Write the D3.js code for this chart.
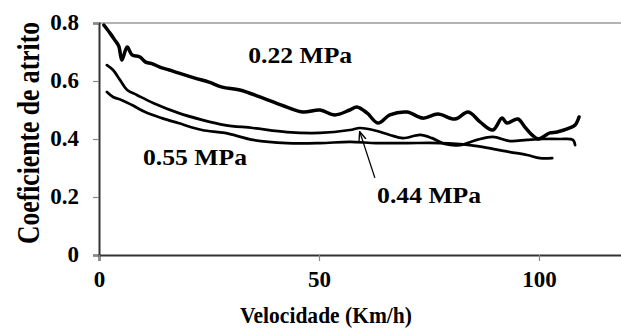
<!DOCTYPE html>
<html>
<head>
<meta charset="utf-8">
<script src="https://cdn.jsdelivr.net/npm/d3@7"></script>
<style>
  html, body { margin: 0; padding: 0; background: #fff; }
  svg { display: block; }
  text { font-family: "Liberation Serif", "Times New Roman", serif; font-weight: bold; fill: #000; }
</style>
</head>
<body>
<svg id="chart" width="621" height="330"></svg>
<script>
// ---- data ----
const speed022 = [1.1, 2.5, 3.6, 4.5, 5.2, 6.4, 7.5, 9.3, 10.5, 12, 14.3, 16, 18, 21.8, 25, 28, 32, 37.3, 42.7, 46.4, 50.2, 53.6, 57, 58.6, 60.9, 63.4, 66.1, 70, 73.6, 77, 80.9, 83.9, 86.6, 89.5, 91.6, 92.7, 95.2, 96.8, 98.4, 99.8, 102.5, 104.1, 107, 108.2, 109.1];
const coef022  = [0.793, 0.765, 0.741, 0.72, 0.672, 0.717, 0.690, 0.683, 0.666, 0.660, 0.645, 0.638, 0.628, 0.610, 0.596, 0.579, 0.569, 0.541, 0.510, 0.493, 0.500, 0.483, 0.500, 0.510, 0.490, 0.455, 0.483, 0.493, 0.472, 0.486, 0.469, 0.493, 0.459, 0.431, 0.472, 0.455, 0.469, 0.441, 0.414, 0.400, 0.421, 0.424, 0.438, 0.448, 0.476];

const speed044 = [1.8, 3.2, 4.8, 6.4, 8.6, 12.3, 18, 23.4, 28.6, 35, 42.7, 50.2, 57, 59.3, 62.3, 66.1, 69.1, 73, 75.7, 78.6, 82, 85.9, 89.5, 93.4, 97.3, 100.9, 104.8, 107.7, 108.2];
const coef044  = [0.655, 0.638, 0.603, 0.569, 0.552, 0.524, 0.490, 0.466, 0.448, 0.438, 0.424, 0.421, 0.431, 0.438, 0.431, 0.414, 0.403, 0.414, 0.403, 0.383, 0.379, 0.397, 0.407, 0.393, 0.397, 0.400, 0.400, 0.397, 0.379];

const speed055 = [1.8, 3.2, 5.2, 7.5, 10.5, 14.3, 18, 23.4, 28.6, 35, 42.7, 50.2, 57, 63, 70, 77.5, 84.3, 89.5, 93.4, 97.3, 100.2, 103];
const coef055  = [0.562, 0.545, 0.534, 0.517, 0.493, 0.472, 0.455, 0.431, 0.421, 0.397, 0.386, 0.386, 0.390, 0.386, 0.386, 0.386, 0.379, 0.366, 0.355, 0.345, 0.334, 0.334];

const xTicks = [0, 50, 100];
const yTicks = [0, 0.2, 0.4, 0.6, 0.8];
const yTickLabels = ["0", "0.2", "0.4", "0.6", "0.8"];

const labelNames = ["0.22 MPa", "0.55 MPa", "0.44 MPa"];
const labelX = [33.9, 10.0, 63.2];
const labelY = [0.662, 0.310, 0.179];

const arrowFrom = [62.7, 0.266];
const arrowTo = [59.3, 0.423];

const xTitle = "Velocidade (Km/h)";
const yTitle = "Coeficiente de atrito";

// ---- chart ----
const svg = d3.select("#chart");
const x = d3.scaleLinear().domain([0, 120]).range([99, 627]);
const y = d3.scaleLinear().domain([0, 0.8]).range([255, 23]);

// top border
svg.append("line").attr("x1", x(0)).attr("x2", 621).attr("y1", y(0.8)).attr("y2", y(0.8))
  .attr("stroke", "#9a9a9a").attr("stroke-width", 1.5);

// y axis
const yAxis = d3.axisLeft(y).tickValues(yTicks).tickFormat((d, i) => yTickLabels[i]).tickSize(6).tickPadding(14);
const gy = svg.append("g").attr("transform", `translate(${x(0)},0)`).call(yAxis);
gy.select(".domain").attr("stroke", "#333").attr("stroke-width", 2);
gy.selectAll(".tick line").attr("stroke", "#888").attr("stroke-width", 1.2);
gy.selectAll(".tick text").style("font-size", "23px").attr("dy", "0.3em").attr("fill", "#000");

// x axis
const xAxis = d3.axisBottom(x).tickValues(xTicks).tickFormat(d3.format("d")).tickSize(6).tickPadding(10);
const gx = svg.append("g").attr("transform", `translate(0,${y(0)})`).call(xAxis);
gx.select(".domain").attr("stroke", "#333").attr("stroke-width", 2);
gx.selectAll(".tick line").attr("stroke", "#888").attr("stroke-width", 1.2);
gx.selectAll(".tick text").style("font-size", "23px").attr("fill", "#000");

// lines
const series = [
  { xs: speed022, ys: coef022, w: 3.5 },
  { xs: speed044, ys: coef044, w: 2.7 },
  { xs: speed055, ys: coef055, w: 2.7 }
];
const line = d3.line().x(d => x(d[0])).y(d => y(d[1])).curve(d3.curveCatmullRom.alpha(0.5));
series.forEach(s => {
  svg.append("path").datum(s.xs.map((v, i) => [v, s.ys[i]]))
    .attr("d", line).attr("fill", "none").attr("stroke", "#000")
    .attr("stroke-width", s.w).attr("stroke-linejoin", "round").attr("stroke-linecap", "round");
});

// arrow
svg.append("defs").append("marker").attr("id", "ah").attr("viewBox", "0 0 10 10")
  .attr("refX", 9).attr("refY", 5).attr("markerWidth", 7).attr("markerHeight", 7)
  .attr("orient", "auto").append("path").attr("d", "M0,1 L10,5 L0,9").attr("fill", "none").attr("stroke", "#000").attr("stroke-width", 1.5);
svg.append("line").attr("x1", x(arrowFrom[0])).attr("y1", y(arrowFrom[1]))
  .attr("x2", x(arrowTo[0])).attr("y2", y(arrowTo[1]))
  .attr("stroke", "#000").attr("stroke-width", 1.3).attr("marker-end", "url(#ah)");

// labels
labelNames.forEach((t, i) => {
  svg.append("text").attr("x", x(labelX[i])).attr("y", y(labelY[i]))
    .style("font-size", "24px").attr("textLength", 104).attr("lengthAdjust", "spacingAndGlyphs").text(t);
});

// titles
svg.append("text").attr("x", 326).attr("y", 323).attr("text-anchor", "middle")
  .style("font-size", "23px").attr("textLength", 172).attr("lengthAdjust", "spacingAndGlyphs").text(xTitle);
svg.append("text").attr("transform", "translate(39,133) scale(1.3,1) rotate(-90)").attr("text-anchor", "middle")
  .style("font-size", "25px").attr("textLength", 222).attr("lengthAdjust", "spacingAndGlyphs").text(yTitle);
</script>
</body>
</html>
